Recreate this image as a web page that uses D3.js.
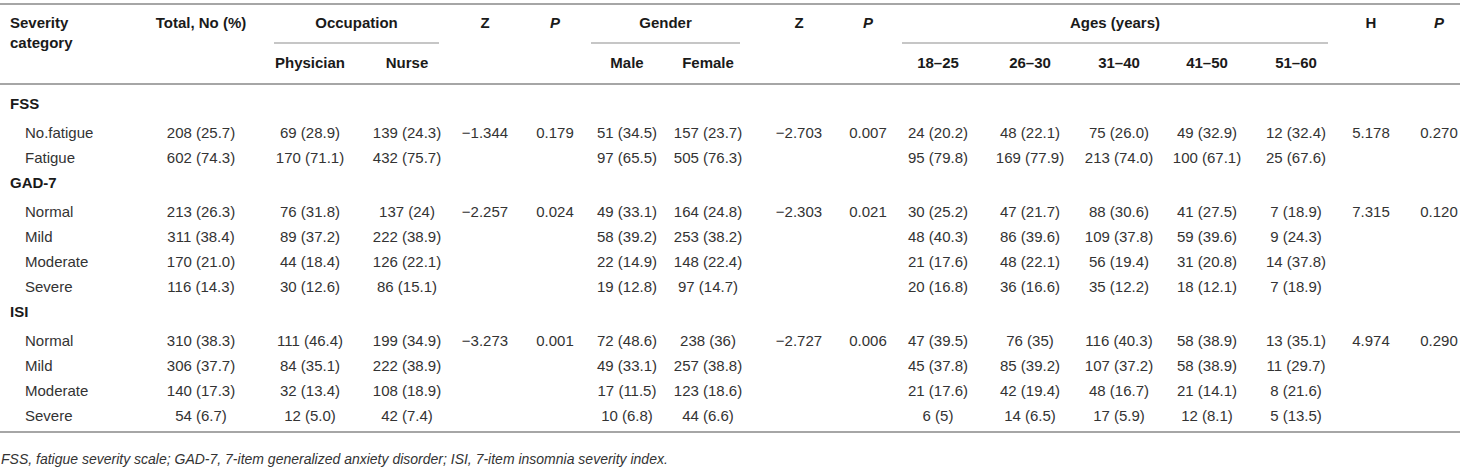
<!DOCTYPE html>
<html>
<head>
<meta charset="utf-8">
<script src="https://cdn.jsdelivr.net/npm/d3@7"></script>
<style>
  html, body { margin: 0; padding: 0; background: #fff; }
  svg { display: block; font-family: "Liberation Sans", Arial, Helvetica, sans-serif; }
  .head { font-weight: bold; fill: #1a1a1a; font-size: 15px; }
  .cell { fill: #333; font-size: 15px; }
  .group { font-weight: bold; fill: #1a1a1a; font-size: 15px; }
  .rule { stroke: #a6a6a6; stroke-width: 2; }
  .span-rule { stroke: #b3b3b3; stroke-width: 1.5; }
  .note { font-style: italic; fill: #333; font-size: 14px; }
</style>
</head>
<body>
<script>
  const groups = ["FSS", "GAD-7", "ISI"];
  const fssCategories = ["No.fatigue", "Fatigue"];
  const gadCategories = ["Normal", "Mild", "Moderate", "Severe"];
  const isiCategories = ["Normal", "Mild", "Moderate", "Severe"];

  // one entry per data row, in table order (FSS rows, GAD-7 rows, ISI rows)
  const totalValues = ["208 (25.7)", "602 (74.3)", "213 (26.3)", "311 (38.4)", "170 (21.0)", "116 (14.3)",
    "310 (38.3)", "306 (37.7)", "140 (17.3)", "54 (6.7)"];
  const physicianValues = ["69 (28.9)", "170 (71.1)", "76 (31.8)", "89 (37.2)", "44 (18.4)", "30 (12.6)",
    "111 (46.4)", "84 (35.1)", "32 (13.4)", "12 (5.0)"];
  const nurseValues = ["139 (24.3)", "432 (75.7)", "137 (24)", "222 (38.9)", "126 (22.1)", "86 (15.1)",
    "199 (34.9)", "222 (38.9)", "108 (18.9)", "42 (7.4)"];
  const maleValues = ["51 (34.5)", "97 (65.5)", "49 (33.1)", "58 (39.2)", "22 (14.9)", "19 (12.8)",
    "72 (48.6)", "49 (33.1)", "17 (11.5)", "10 (6.8)"];
  const femaleValues = ["157 (23.7)", "505 (76.3)", "164 (24.8)", "253 (38.2)", "148 (22.4)", "97 (14.7)",
    "238 (36)", "257 (38.8)", "123 (18.6)", "44 (6.6)"];
  const age18to25 = ["24 (20.2)", "95 (79.8)", "30 (25.2)", "48 (40.3)", "21 (17.6)", "20 (16.8)",
    "47 (39.5)", "45 (37.8)", "21 (17.6)", "6 (5)"];
  const age26to30 = ["48 (22.1)", "169 (77.9)", "47 (21.7)", "86 (39.6)", "48 (22.1)", "36 (16.6)",
    "76 (35)", "85 (39.2)", "42 (19.4)", "14 (6.5)"];
  const age31to40 = ["75 (26.0)", "213 (74.0)", "88 (30.6)", "109 (37.8)", "56 (19.4)", "35 (12.2)",
    "116 (40.3)", "107 (37.2)", "48 (16.7)", "17 (5.9)"];
  const age41to50 = ["49 (32.9)", "100 (67.1)", "41 (27.5)", "59 (39.6)", "31 (20.8)", "18 (12.1)",
    "58 (38.9)", "58 (38.9)", "21 (14.1)", "12 (8.1)"];
  const age51to60 = ["12 (32.4)", "25 (67.6)", "7 (18.9)", "9 (24.3)", "14 (37.8)", "7 (18.9)",
    "13 (35.1)", "11 (29.7)", "8 (21.6)", "5 (13.5)"];

  // test statistics, one per group (shown on the group's first row)
  const occupationZ = ["\u22121.344", "\u22122.257", "\u22123.273"];
  const occupationP = ["0.179", "0.024", "0.001"];
  const genderZ = ["\u22122.703", "\u22122.303", "\u22122.727"];
  const genderP = ["0.007", "0.021", "0.006"];
  const agesH = ["5.178", "7.315", "4.974"];
  const agesP = ["0.270", "0.120", "0.290"];

  const columnKeys = ["total", "physician", "nurse", "occZ", "occP", "male", "female", "genZ", "genP",
    "a1825", "a2630", "a3140", "a4150", "a5160", "ageH", "ageP"];
  const topHeaders = [["total", "Total, No (%)"], ["occZ", "Z"], ["occP", "P"], ["genZ", "Z"], ["genP", "P"],
    ["ageH", "H"], ["ageP", "P"]];
  const subHeaders = [["physician", "Physician"], ["nurse", "Nurse"], ["male", "Male"], ["female", "Female"],
    ["a1825", "18\u201325"], ["a2630", "26\u201330"], ["a3140", "31\u201340"], ["a4150", "41\u201350"], ["a5160", "51\u201360"]];
  const spanners = [["Occupation", "physician", "nurse"], ["Gender", "male", "female"], ["Ages (years)", "a1825", "a5160"]];
  const footnote = "FSS, fatigue severity scale; GAD-7, 7-item generalized anxiety disorder; ISI, 7-item insomnia severity index.";

  // ---- layout ----
  const W = 1460, H = 474;
  const x = d3.scaleOrdinal()
    .domain(columnKeys)
    .range([201, 310, 407, 485, 555, 627, 708, 799, 868, 938, 1030, 1119, 1207, 1296, 1371, 1439]);
  const labelX = 10, indentX = 25;

  const svg = d3.select("body").append("svg").attr("width", W).attr("height", H);

  // build row list
  const catLists = [fssCategories, gadCategories, isiCategories];
  const rows = [];
  let dataIndex = 0;
  groups.forEach(function (g, gi) {
    rows.push({ type: "group", label: g });
    catLists[gi].forEach(function (c, ci) {
      rows.push({ type: "data", label: c, i: dataIndex++, gi: gi, first: ci === 0 });
    });
  });

  // vertical positions: group heading gets a bit more room below it
  let yy = 104;
  rows.forEach(function (r) {
    r.y = yy;
    yy += r.type === "group" ? 29 : 25;
  });

  // rules
  svg.append("line").attr("class", "rule").attr("x1", 0).attr("x2", W).attr("y1", 4).attr("y2", 4);
  svg.append("line").attr("class", "rule").attr("x1", 0).attr("x2", W).attr("y1", 84).attr("y2", 84);
  svg.append("line").attr("class", "rule").attr("x1", 0).attr("x2", W).attr("y1", 432).attr("y2", 432);

  // header
  const head = svg.append("g");
  head.append("text").attr("class", "head").attr("x", labelX).attr("y", 23).attr("dy", "0.35em").text("Severity");
  head.append("text").attr("class", "head").attr("x", labelX).attr("y", 43).attr("dy", "0.35em").text("category");

  head.selectAll("text.top").data(topHeaders).enter().append("text")
    .attr("class", "head top")
    .attr("x", d => x(d[0])).attr("y", 23).attr("dy", "0.35em")
    .attr("text-anchor", "middle")
    .style("font-style", d => d[1] === "P" ? "italic" : null)
    .text(d => d[1]);

  head.selectAll("text.sub").data(subHeaders).enter().append("text")
    .attr("class", "head sub")
    .attr("x", d => x(d[0])).attr("y", 63).attr("dy", "0.35em")
    .attr("text-anchor", "middle")
    .text(d => d[1]);

  spanners.forEach(function (s) {
    const x0 = x(s[1]) - 36, x1 = x(s[2]) + 32;
    head.append("text").attr("class", "head")
      .attr("x", (x0 + x1) / 2).attr("y", 23).attr("dy", "0.35em")
      .attr("text-anchor", "middle").text(s[0]);
    head.append("line").attr("class", "span-rule")
      .attr("x1", x0).attr("x2", x1).attr("y1", 43).attr("y2", 43);
  });

  // body
  const columns = {
    total: totalValues, physician: physicianValues, nurse: nurseValues,
    male: maleValues, female: femaleValues,
    a1825: age18to25, a2630: age26to30, a3140: age31to40, a4150: age41to50, a5160: age51to60
  };
  const stats = { occZ: occupationZ, occP: occupationP, genZ: genderZ, genP: genderP, ageH: agesH, ageP: agesP };

  const rowG = svg.append("g").selectAll("g").data(rows).enter().append("g")
    .attr("transform", d => "translate(0," + d.y + ")");

  rowG.append("text")
    .attr("class", d => d.type === "group" ? "group" : "cell")
    .attr("x", d => d.type === "group" ? labelX : indentX)
    .attr("dy", "0.35em")
    .text(d => d.label);

  rowG.filter(d => d.type === "data").each(function (r) {
    const cells = columnKeys.map(function (k) {
      let v = "";
      if (columns[k]) v = columns[k][r.i];
      else if (r.first) v = stats[k][r.gi];
      return { key: k, value: v };
    }).filter(c => c.value !== "");
    d3.select(this).selectAll("text.val").data(cells).enter().append("text")
      .attr("class", "cell val")
      .attr("x", c => x(c.key))
      .attr("dy", "0.35em")
      .attr("text-anchor", "middle")
      .text(c => c.value);
  });

  // footnote
  svg.append("text").attr("class", "note").attr("x", 1).attr("y", 459).attr("dy", "0.35em").text(footnote);
</script>
</body>
</html>
